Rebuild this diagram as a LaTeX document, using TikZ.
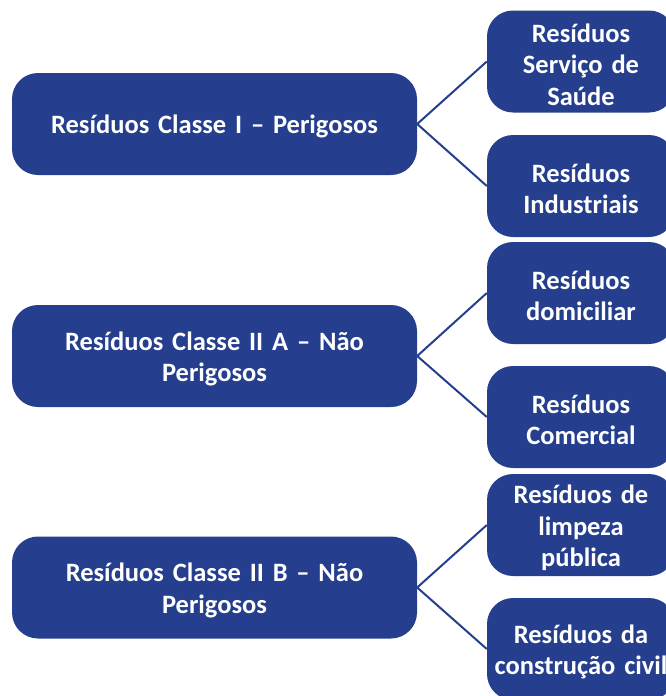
\documentclass[tikz,border=0pt]{standalone}
\usepackage{fontspec}
\setmainfont{Carlito}[WordSpace=0.75]
\definecolor{boxblue}{RGB}{37,63,142}
\newcommand{\boxfont}{\bfseries\fontsize{26.5}{31.5}\selectfont}
\newcommand{\boxlines}{\baselineskip=31.5pt\relax\lineskiplimit=-20pt\relax\lineskip=0pt\relax}
\newcommand{\boxend}{\endgraf\vspace*{-6pt}}
\begin{document}
\begin{tikzpicture}[x=1pt,y=-1pt,
  box/.style={fill=boxblue, draw=none, rounded corners=26pt, text=white,
    font=\boxfont, align=center, inner sep=0pt, minimum height=102pt,
    execute at begin node={\boxlines},
    execute at end node={\boxend}},
  lbox/.style={box, minimum width=405pt, text width=390pt},
  rbox/.style={box, minimum width=188pt, text width=186pt},
  link/.style={draw=boxblue, line width=2pt}]
\useasboundingbox (0,0) rectangle (666,696);
\node[lbox] (c1) at (214.5,124) {Resíduos Classe I – Perigosos};
\node[lbox] (c2) at (214.5,356) {Resíduos Classe II A – Não\\Perigosos};
\node[lbox] (c3) at (214.5,587.5) {Resíduos Classe II B – Não\\Perigosos};
\node[rbox] (r1) at (581,61.5) {Resíduos\\Serviço de\\Saúde};
\node[rbox] (r2) at (581,186) {Resíduos\\Industriais};
\node[rbox] (r3) at (581,293) {Resíduos\\domiciliar};
\node[rbox] (r4) at (581,417) {Resíduos\\Comercial};
\node[rbox] (r5) at (581,525) {Resíduos de\\limpeza\\pública};
\node[rbox] (r6) at (581,649) {Resíduos da\\construção civil};
\draw[link] (c1.east) -- (r1.west);
\draw[link] (c1.east) -- (r2.west);
\draw[link] (c2.east) -- (r3.west);
\draw[link] (c2.east) -- (r4.west);
\draw[link] (c3.east) -- (r5.west);
\draw[link] (c3.east) -- (r6.west);
\end{tikzpicture}
\end{document}
